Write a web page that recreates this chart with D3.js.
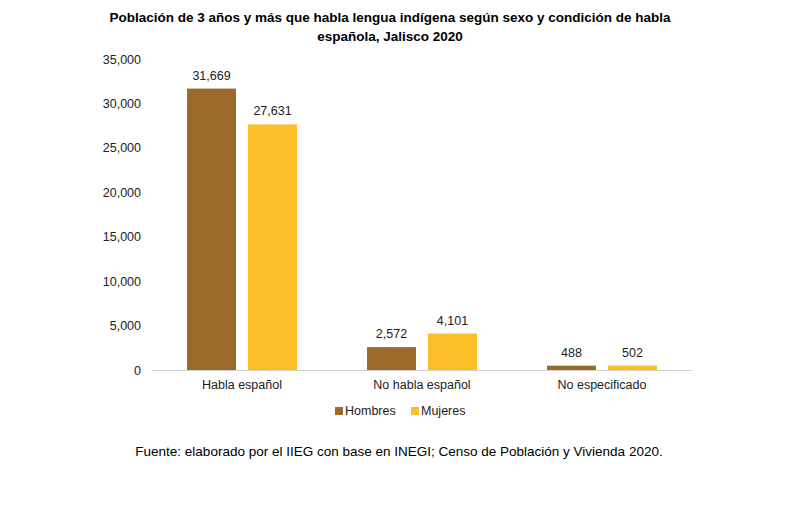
<!DOCTYPE html>
<html><head><meta charset="utf-8">
<script src="https://cdn.jsdelivr.net/npm/d3@7"></script>
<style>body{margin:0;background:#fff;font-family:"Liberation Sans",Arial,sans-serif}</style>
</head><body><svg id="c" width="785" height="516"></svg>
<script>
const categories=["Habla español","No habla español","No especificado"];
const hombres=[31669,2572,488];
const mujeres=[27631,4101,502];
const seriesNames=["Hombres","Mujeres"];
const colors=["#996a2c","#fbbd28"];
const yTicks=[0,5000,10000,15000,20000,25000,30000,35000];

const svg=d3.select("#c");
const x=d3.scaleBand().domain(categories).range([152,692]);
const y=d3.scaleLinear().domain([0,35000]).range([370,59]);
const fmt=d3.format(",");

const t=svg.append("text").attr("text-anchor","middle").attr("font-weight","bold").attr("font-size",13.5).attr("fill","#000");
t.append("tspan").attr("x",390).attr("y",22).text("Población de 3 años y más que habla lengua indígena según sexo y condición de habla");
t.append("tspan").attr("x",390).attr("y",41).text("española, Jalisco 2020");

yTicks.forEach(v=>{
  svg.append("text").attr("x",141).attr("y",y(v)+4.5).attr("text-anchor","end").attr("font-size",12.5).attr("fill","#222").text(fmt(v));
});
svg.append("line").attr("x1",152).attr("x2",692).attr("y1",370.5).attr("y2",370.5).attr("stroke","#d0d0d0");

const bw=49, gap=12;
[hombres,mujeres].forEach((s,si)=>{
  s.forEach((v,i)=>{
    const cx=x(categories[i])+x.bandwidth()/2;
    const bx=si===0?cx-gap/2-bw:cx+gap/2;
    svg.append("rect").attr("x",bx).attr("y",y(v)).attr("width",bw).attr("height",370-y(v)).attr("fill",colors[si]);
    svg.append("text").attr("x",bx+bw/2).attr("y",y(v)-9).attr("text-anchor","middle").attr("font-size",12.5).attr("fill","#222").text(fmt(v));
  });
});
categories.forEach(c=>{
  svg.append("text").attr("x",x(c)+x.bandwidth()/2).attr("y",389).attr("text-anchor","middle").attr("font-size",12.5).attr("fill","#222").text(c);
});
const lx=[335,411];
seriesNames.forEach((n,i)=>{
  svg.append("rect").attr("x",lx[i]).attr("y",407).attr("width",8).attr("height",8).attr("fill",colors[i]);
  svg.append("text").attr("x",lx[i]+10).attr("y",415).attr("font-size",12.5).attr("fill","#222").text(n);
});
svg.append("text").attr("x",399).attr("y",456).attr("text-anchor","middle").attr("font-size",13.5).attr("fill","#000").text("Fuente: elaborado por el IIEG con base en INEGI; Censo de Población y Vivienda 2020.");
</script></body></html>
